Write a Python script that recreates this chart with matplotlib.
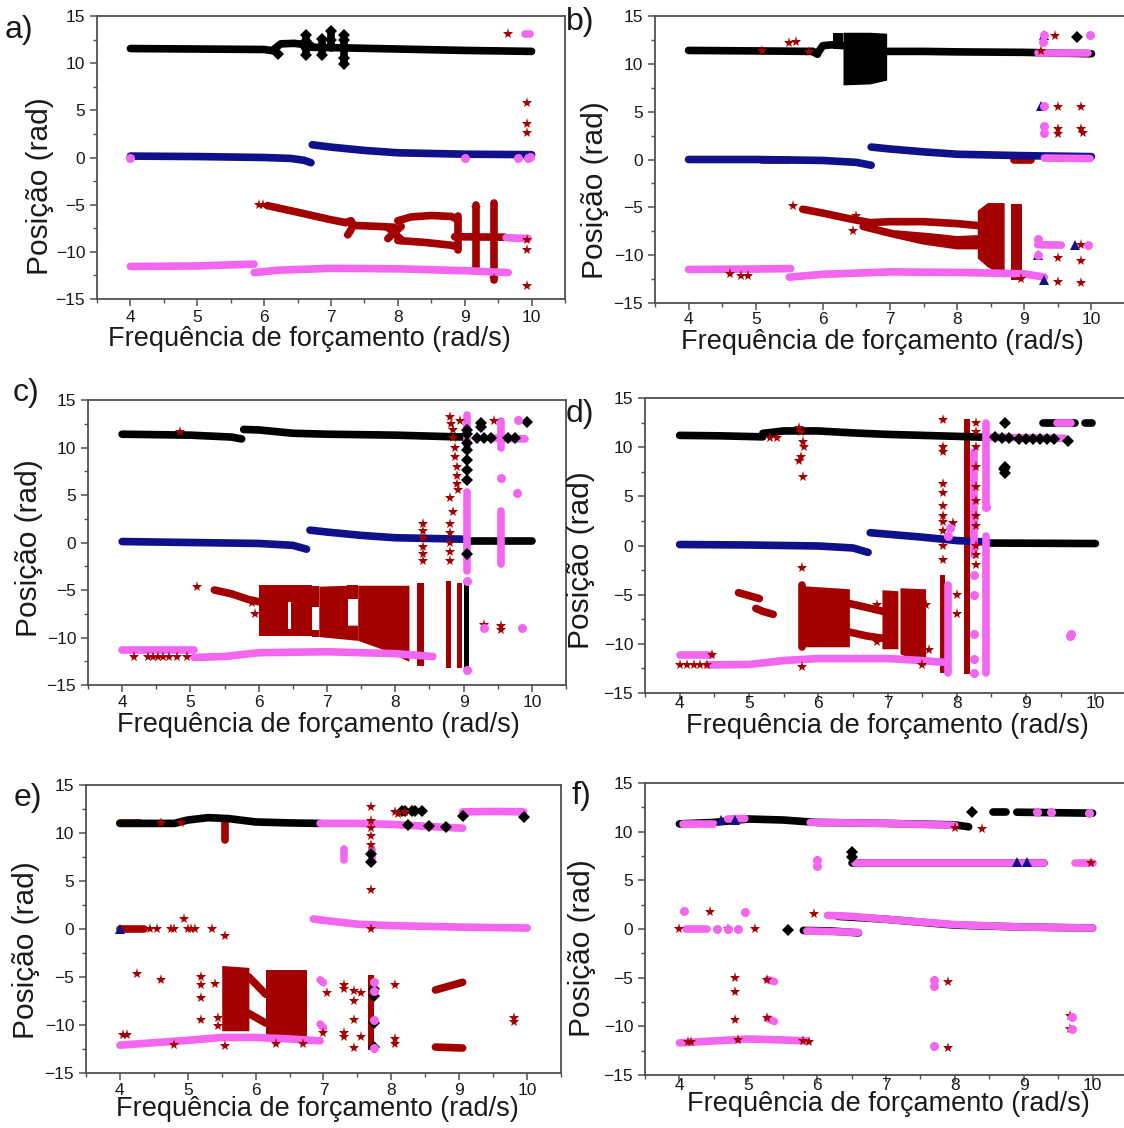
import matplotlib
matplotlib.use("Agg")
import matplotlib.pyplot as plt
from matplotlib.ticker import MultipleLocator

W, H = 1124, 1128
BLACK, BLUE, RED, PINK = "#000000", "#10108a", "#a30000", "#f266f0"
FONT = "Liberation Sans"

# ---------------- panel a) ----------------
A_BLACK_LINES = [
    ([4.0, 5.0, 6.0, 6.15], [11.55, 11.5, 11.45, 11.3]),
    ([6.15, 6.25, 6.45, 6.7], [11.5, 12.05, 12.1, 11.9]),
    ([6.6, 7.0, 8.0, 9.0, 10.0], [11.7, 11.65, 11.5, 11.35, 11.25]),
    ([6.63, 6.63], [10.9, 13.0]), ([6.87, 6.87], [10.9, 12.6]),
    ([7.0, 7.0], [11.6, 13.4]), ([7.2, 7.2], [9.9, 13.0]),
]
A_BLACK_PTS = [(6.2, 11.0), (6.63, 13.0), (6.63, 12.4), (6.63, 10.9), (6.87, 12.6), (6.87, 10.9),
               (7.0, 13.4), (7.0, 12.5), (7.2, 13.0), (7.2, 12.5), (7.2, 10.5), (7.2, 9.9)]
A_BLUE_LINES = [
    ([4.0, 5.0, 6.0, 6.4, 6.6, 6.7], [0.15, 0.1, 0.0, -0.1, -0.3, -0.55]),
    ([6.72, 7.0, 7.5, 8.0, 9.0, 10.0], [1.35, 1.1, 0.75, 0.5, 0.35, 0.3]),
]
A_BLUE_PTS = []
A_RED_LINES = [
    ([6.05, 6.5, 7.0, 7.22], [-5.1, -5.8, -6.6, -6.9]),
    ([7.22, 7.3, 7.33, 7.28, 7.25], [-6.9, -6.7, -7.2, -7.9, -8.2]),
    ([7.33, 7.7, 7.95], [-7.2, -7.3, -7.4]),
    ([7.85, 8.05], [-8.6, -7.3]), ([7.85, 8.05], [-7.4, -8.7]),
    ([8.0, 8.2, 8.5, 8.8, 8.9], [-6.7, -6.3, -6.15, -6.25, -6.6]),
    ([8.0, 8.4, 8.8, 8.9], [-8.8, -9.0, -9.3, -9.5]),
    ([8.85, 9.6], [-8.4, -8.45]),
    ([8.9, 8.9], [-6.2, -9.8]), ([9.17, 9.17], [-5.0, -11.6]), ([9.44, 9.44], [-4.8, -13.0]),
]
A_RED_FILL = []
A_RED_PTS = [(5.93, -5.0), (5.98, -5.05), (9.65, 13.1), (9.93, 5.8), (9.93, 3.6), (9.93, 2.6),
             (9.93, -8.7), (9.93, -9.8), (9.93, -13.6), (9.44, -12.9), (9.17, -5.4)]
A_PINK_LINES = [
    ([4.0, 5.0, 5.85], [-11.55, -11.5, -11.3]),
    ([5.85, 6.2, 7.0, 8.0, 9.0, 9.65], [-12.2, -11.95, -11.75, -11.8, -12.0, -12.2]),
    ([9.62, 9.95], [-8.5, -8.6]),
    ([9.9, 9.97], [13.1, 13.1]),
]
A_PINK_PTS = [(4.0, 0.0), (9.0, 0.0), (9.8, 0.0), (9.95, 0.0), (9.97, 0.05)]

# ---------------- panel b) ----------------
B_BLACK_LINES = [
    ([4.0, 5.0, 5.85], [11.4, 11.35, 11.3]),
    ([5.85, 5.92], [11.3, 11.0]),
    ([5.92, 6.0, 6.15, 6.3], [11.1, 11.9, 12.0, 11.9]),
    ([6.95, 7.5, 8.0, 9.0, 10.0], [11.3, 11.3, 11.25, 11.2, 11.05]),
]
B_BLACK_FILL = [
    ([6.15, 6.3], [11.6, 11.6], [13.2, 13.2]),
    ([6.3, 6.7, 6.95], [7.8, 7.9, 8.3], [13.3, 13.3, 13.2]),
]
B_BLACK_PTS = [(9.78, 12.85)]
B_BLUE_LINES = [
    ([4.0, 5.0, 6.0, 6.5, 6.72], [0.0, 0.0, -0.1, -0.3, -0.6]),
    ([6.72, 7.0, 7.5, 8.0, 9.0, 10.0], [1.3, 1.1, 0.8, 0.55, 0.4, 0.3]),
]
B_BLUE_PTS = [(9.3, 13.0), (9.2, -10.0), (9.3, -12.6), (9.25, 5.6), (9.75, -8.9)]
B_RED_LINES = [
    ([5.1, 5.5], [0.0, 0.0]),
    ([5.7, 6.0, 6.4, 6.7], [-5.2, -5.6, -6.2, -6.6]),
    ([6.7, 7.0, 7.5, 8.0, 8.3], [-6.6, -6.5, -6.5, -6.7, -6.9]),
    ([6.6, 7.0, 7.5, 8.0, 8.3], [-7.0, -7.7, -8.5, -9.0, -9.0]),
    ([7.1, 7.6, 8.0, 8.3], [-7.8, -8.1, -8.4, -8.3]),
    ([8.85, 9.1], [0.0, 0.0]),
]
B_RED_FILL = [
    ([8.3, 8.45, 8.7], [-10.3, -11.2, -12.3], [-5.3, -4.5, -4.5]),
    ([8.8, 8.97], [-12.6, -12.6], [-4.6, -4.6]),
]
B_RED_PTS = [(5.55, -4.9), (5.5, 12.2), (5.6, 12.3), (5.1, 11.3), (5.8, 11.2), (4.62, -12.0),
             (4.78, -12.2), (4.88, -12.2), (9.45, 12.9), (9.5, 5.5), (9.85, 5.5), (9.5, 3.2),
             (9.5, 2.7), (9.85, 3.2), (9.88, 2.8), (9.5, -10.3), (9.85, -10.6), (9.5, -12.8),
             (9.85, -12.9), (9.85, -8.9), (6.45, -7.5), (6.5, -5.9), (8.95, -12.5), (9.25, 11.3)]
B_PINK_LINES = [
    ([4.0, 5.0, 5.52], [-11.5, -11.45, -11.4]),
    ([5.5, 6.0, 7.0, 8.0, 9.0, 9.3], [-12.3, -12.0, -11.75, -11.8, -11.95, -12.3]),
    ([9.2, 9.95], [11.1, 11.1]),
    ([9.3, 9.98], [0.15, 0.1]),
    ([9.2, 9.55], [-8.9, -8.95]),
]
B_PINK_PTS = [(9.28, 12.3), (9.3, 13.0), (9.98, 13.0), (9.3, 5.6), (9.3, 3.5), (9.3, 2.8),
              (9.2, -10.0), (9.95, -8.9), (9.2, -8.3)]

# ---------------- panel c) ----------------
C_BLACK_LINES = [
    ([4.0, 5.0, 5.6, 5.75], [11.4, 11.3, 11.1, 10.9]),
    ([5.78, 6.0, 6.5, 7.0, 8.0, 9.0], [11.9, 11.85, 11.5, 11.4, 11.3, 11.1]),
    ([9.05, 10.0], [0.15, 0.15]),
]
C_BLACK_FILL = [([9.0, 9.08], [-13.3, -13.3], [-4.0, -4.0])]
C_BLACK_PTS = [(9.05, 11.8), (9.05, 11.4), (9.05, 10.5), (9.05, 9.7), (9.05, 8.7), (9.05, 7.6),
               (9.05, 6.6), (9.05, -1.2), (9.25, 12.6), (9.25, 12.2), (9.93, 12.65), (9.2, 11.0),
               (9.3, 11.0), (9.4, 11.0), (9.65, 11.0), (9.75, 11.0)]
C_BLUE_LINES = [
    ([4.0, 5.0, 6.0, 6.5, 6.7], [0.1, 0.0, -0.1, -0.3, -0.7]),
    ([6.75, 7.0, 7.5, 8.0, 9.0], [1.3, 1.1, 0.75, 0.5, 0.35]),
]
C_BLUE_PTS = []
C_RED_LINES = [([5.35, 5.6, 5.85, 6.05], [-5.0, -5.4, -6.0, -6.3])]
C_RED_FILL = [
    ([6.0, 6.43], [-9.8, -9.8], [-4.5, -4.5]),
    ([6.43, 6.48], [-9.8, -9.8], [-9.1, -9.1]), ([6.43, 6.48], [-6.3, -6.3], [-4.5, -4.5]),
    ([6.48, 6.78], [-9.8, -9.8], [-4.5, -4.5]),
    ([6.78, 6.88], [-9.9, -9.9], [-9.2, -9.2]), ([6.78, 6.88], [-6.8, -6.8], [-4.6, -4.6]),
    ([6.88, 7.3], [-9.9, -10.2], [-4.6, -4.5]),
    ([7.3, 7.45], [-10.2, -10.3], [-8.7, -8.7]), ([7.3, 7.45], [-5.9, -5.9], [-4.5, -4.5]),
    ([7.45, 7.8, 8.2], [-10.3, -11.2, -12.5], [-4.5, -4.5, -4.5]),
    ([8.32, 8.42], [-13.0, -13.0], [-4.3, -4.3]),
    ([8.75, 8.82], [-13.2, -13.2], [-4.0, -4.0]),
    ([8.9, 8.98], [-13.2, -13.2], [-4.3, -4.3]),
]
C_RED_PTS = [(5.1, -4.65), (4.17, -12.1), (4.38, -12.1), (4.45, -12.1), (4.52, -12.1), (4.6, -12.1),
             (4.68, -12.1), (4.8, -12.1), (4.95, -12.1), (4.85, 11.6), (5.9, -6.4), (5.95, -7.5),
             (8.4, 2.0), (8.4, 1.2), (8.4, 0.5), (8.4, -0.5), (8.4, -1.2), (8.4, -1.9),
             (8.8, 13.2), (8.82, 12.5), (8.85, 11.8), (8.85, 11.0), (8.87, 10.0), (8.88, 9.0),
             (8.9, 8.0), (8.9, 7.0), (8.9, 6.2), (8.92, 5.5), (8.8, 4.7), (8.85, 3.2), (8.8, 2.0),
             (8.8, 1.0), (8.8, 0.0), (8.8, -1.0), (8.8, -1.9), (8.95, 12.8), (9.45, 12.8),
             (9.3, -8.7), (9.55, -8.8), (9.55, -9.2)]
C_PINK_LINES = [
    ([4.0, 5.05], [-11.3, -11.3]),
    ([5.05, 5.5, 6.0, 7.0, 8.0, 8.55], [-12.1, -12.0, -11.6, -11.5, -11.7, -12.0]),
    ([9.4, 9.9], [11.0, 10.9]),
    ([9.05, 9.05], [13.4, 9.8]), ([9.05, 9.05], [5.3, -3.0]),
    ([9.55, 9.55], [12.8, 10.0]), ([9.55, 9.55], [3.3, -2.3]),
]
C_PINK_PTS = [(9.05, -13.4), (9.55, 6.8), (9.8, 12.9), (9.78, 5.2), (9.85, -9.0), (9.3, -9.0),
              (9.05, -4.0)]

# ---------------- panel d) ----------------
D_BLACK_LINES = [
    ([4.0, 4.6, 5.2], [11.2, 11.15, 11.05]),
    ([5.2, 5.5, 6.0, 6.5, 7.0, 8.0, 8.45], [11.4, 11.65, 11.65, 11.45, 11.3, 11.1, 11.0]),
    ([8.45, 10.0], [0.25, 0.2]),
    ([9.25, 9.7], [12.5, 12.5]), ([9.85, 9.95], [12.5, 12.5]),
]
D_BLACK_FILL = []
D_BLACK_PTS = [(8.7, 12.5), (8.55, 11.0), (8.65, 10.9), (8.75, 10.9), (8.9, 10.85), (9.0, 10.85),
               (9.1, 10.8), (9.2, 10.8), (9.3, 10.8), (9.4, 10.8), (9.6, 10.6), (8.7, 8.0),
               (8.7, 7.4), (8.68, 7.8)]
D_BLUE_LINES = [
    ([4.0, 5.0, 6.0, 6.5, 6.72], [0.1, 0.05, -0.05, -0.25, -0.7]),
    ([6.75, 7.0, 7.5, 8.0, 8.45], [1.3, 1.15, 0.85, 0.5, 0.35]),
]
D_BLUE_PTS = []
D_RED_LINES = [
    ([4.85, 5.0, 5.15], [-4.8, -5.1, -5.4]),
    ([5.1, 5.2, 5.35], [-6.4, -6.7, -7.0]),
    ([6.45, 6.7, 7.0], [-5.9, -6.3, -6.8]),
    ([6.45, 6.7, 7.0], [-8.8, -9.2, -9.5]),
    ([5.77, 5.77], [-4.0, -10.3]),
]
D_RED_FILL = [
    ([5.8, 6.45], [-10.3, -10.3], [-4.1, -4.4]),
    ([6.92, 7.15], [-10.5, -10.5], [-4.5, -4.6]),
    ([7.18, 7.55], [-11.0, -12.2], [-4.3, -4.4]),
    ([7.76, 7.83], [-13.0, -13.0], [-3.0, -3.0]),
    ([8.1, 8.19], [-13.1, -13.1], [12.9, 12.9]),
]
D_RED_PTS = [(5.72, 12.0), (5.75, 11.5), (5.78, 10.5), (5.8, 10.0), (5.75, 9.0), (5.72, 8.6),
             (5.78, 7.0), (5.77, -2.3), (5.77, -12.4), (4.0, -12.2), (4.1, -12.2), (4.2, -12.2),
             (4.3, -12.2), (4.4, -12.2), (4.47, -11.1), (5.3, 10.9), (5.4, 10.9),
             (7.8, 12.8), (7.8, 10.0), (7.8, 9.5), (7.8, 6.3), (7.8, 5.3), (7.8, 4.0), (7.8, 3.0),
             (7.8, 2.4), (7.8, 1.5), (7.8, 0.0), (7.8, -1.5),
             (8.28, 12.5), (8.28, 11.5), (8.28, 10.0), (8.28, 8.0), (8.28, 6.0), (8.28, 4.5),
             (8.28, 3.0), (8.28, 2.0), (8.28, 0.0), (8.28, -1.0), (8.28, -2.0),
             (6.85, -6.0), (6.85, -9.8), (7.55, -6.0), (7.6, -10.6), (7.5, -12.2), (7.95, 2.3),
             (8.0, -5.0), (8.0, -7.0)]
D_PINK_LINES = [
    ([4.0, 4.45], [-11.1, -11.1]),
    ([4.4, 5.0, 5.5, 6.0, 7.0, 7.5, 7.85], [-12.15, -12.1, -11.7, -11.5, -11.5, -11.7, -11.9]),
    ([8.45, 9.55], [11.0, 10.9]),
    ([9.45, 9.65], [12.5, 12.5]),
    ([7.87, 7.87], [-4.0, -13.0]),
    ([8.25, 8.25], [9.5, -1.0]),
    ([8.42, 8.42], [12.5, 4.2]), ([8.42, 8.42], [1.0, -13.0]),
]
D_PINK_PTS = [(7.9, 1.8), (7.88, 1.0), (8.25, -3.0), (8.25, -5.0), (8.25, -9.0), (8.25, -11.5),
              (8.25, -13.0), (8.42, 3.9), (9.65, -9.0), (9.64, -9.2)]

# ---------------- panel e) ----------------
E_BLACK_LINES = [
    ([4.0, 4.8, 5.0, 5.3, 5.6, 6.0, 6.5, 6.95], [11.0, 11.0, 11.35, 11.6, 11.5, 11.15, 11.05, 11.0]),
]
E_BLACK_FILL = []
E_BLACK_PTS = [(8.15, 12.3), (8.2, 12.3), (8.3, 12.3), (8.35, 12.3), (8.45, 12.3), (8.25, 10.8),
               (8.55, 10.7), (9.05, 11.8), (9.95, 11.7), (7.7, 7.0), (7.7, 7.8), (7.75, -6.2),
               (7.75, -7.0), (7.75, -9.8), (7.75, -12.3), (8.8, 10.6)]
E_BLUE_LINES = []
E_BLUE_PTS = [(4.0, 0.05)]
E_RED_LINES = [
    ([8.65, 9.05], [-6.35, -5.55]),
    ([8.65, 9.05], [-12.3, -12.4]),
    ([5.55, 5.55], [11.4, 9.3]),
    ([4.0, 4.3], [11.0, 11.0]),
    ([4.0, 4.35], [0.0, 0.0]),
    ([5.9, 6.15], [-5.0, -6.8]),
    ([5.9, 6.15], [-8.8, -9.8]),
]
E_RED_FILL = [
    ([5.5, 5.9], [-10.6, -10.6], [-3.8, -4.0]),
    ([6.15, 6.75], [-11.2, -11.2], [-4.3, -4.3]),
    ([7.66, 7.74], [-12.6, -12.6], [-4.8, -4.8]),
]
E_RED_PTS = [(4.95, 1.0), (5.55, -0.7), (4.05, -11.0), (4.1, -11.0), (4.25, -4.7), (4.6, -5.3),
             (5.2, -5.0), (5.2, -5.8), (5.2, -7.2), (5.2, -9.5), (5.4, -5.7), (5.45, -9.3),
             (5.45, -10.1), (7.05, -6.7), (7.3, -5.8), (7.3, -6.2), (7.3, -10.8), (7.3, -11.2),
             (7.45, -6.5), (7.45, -7.5), (7.45, -9.5), (7.45, -12.4), (7.55, -11.3), (7.55, -6.7),
             (7.0, -10.8), (8.05, -5.8), (8.05, -11.5), (8.05, -12.0), (9.8, -9.3), (9.8, -9.7),
             (4.45, 0.0), (4.55, 0.0), (4.75, 0.0), (4.8, 0.0), (5.0, 0.0), (5.05, 0.0),
             (5.1, 0.0), (5.35, 0.0), (7.7, 12.7), (7.7, 11.2), (7.7, 10.5), (7.7, 9.7),
             (7.7, 8.8), (7.7, 4.1), (7.7, 0.0), (8.05, 12.2), (8.1, 12.0), (8.2, 12.2),
             (5.55, -12.2), (6.7, -12.0), (4.8, -12.1), (6.3, -12.0), (4.6, 11.0), (4.9, 11.0)]
E_PINK_LINES = [
    ([4.0, 5.0, 5.5, 6.0, 6.5, 6.95], [-12.1, -11.6, -11.3, -11.3, -11.45, -11.65]),
    ([6.85, 7.0, 7.5, 8.0, 9.0, 10.0], [1.05, 0.9, 0.5, 0.35, 0.2, 0.1]),
    ([6.95, 7.5, 8.0, 8.5, 9.05], [11.0, 11.0, 10.9, 10.7, 10.5]),
    ([9.05, 9.5, 9.95], [12.2, 12.25, 12.2]),
    ([7.3, 7.3], [8.3, 7.2]), ([7.72, 7.72], [8.3, 7.0]),
    ([6.95, 7.0], [-5.3, -5.6]), ([6.95, 7.0], [-9.9, -10.3]),
]
E_PINK_PTS = [(7.75, -5.5), (7.75, -6.5), (7.75, -9.5), (7.75, -12.4)]

# ---------------- panel f) ----------------
F_BLACK_LINES = [
    ([4.0, 4.5, 5.0, 5.5, 6.0, 7.0, 8.0, 8.2], [10.8, 10.95, 11.3, 11.2, 10.95, 10.85, 10.7, 10.5]),
    ([8.55, 8.75], [12.0, 12.0]),
    ([8.9, 10.0], [12.0, 11.9]),
    ([6.5, 9.3], [6.8, 6.8]),
    ([5.8, 6.2, 6.6], [-0.15, -0.2, -0.4]),
    ([6.3, 7.0, 8.0, 9.0, 10.0], [1.3, 1.0, 0.4, 0.2, 0.1]),
]
F_BLACK_FILL = []
F_BLACK_PTS = [(8.25, 12.0), (6.5, 7.9), (6.5, 7.4), (5.57, -0.1)]
F_BLUE_LINES = []
F_BLUE_PTS = [(8.9, 6.9), (9.05, 6.9), (4.6, 11.2), (4.8, 11.2)]
F_RED_LINES = []
F_RED_FILL = []
F_RED_PTS = [(4.0, 0.0), (4.45, 1.7), (4.7, 0.0), (5.1, 0.0), (5.95, 1.5), (4.8, -5.0),
             (4.8, -6.5), (4.8, -9.3), (4.85, -11.4), (5.27, -5.2), (5.27, -9.1), (7.9, -5.4),
             (7.9, -12.2), (9.67, -8.9), (9.67, -10.3), (9.98, 6.8), (8.0, 10.4), (8.4, 10.3),
             (4.12, -11.6), (4.17, -11.6), (5.8, -11.5), (5.88, -11.6)]
F_PINK_LINES = [
    ([4.05, 4.5], [10.8, 10.8]),
    ([4.7, 4.95], [11.3, 11.35]),
    ([5.9, 7.0, 8.0], [10.95, 10.85, 10.65]),
    ([6.55, 7.0, 8.0, 9.3], [6.8, 6.8, 6.8, 6.8]),
    ([9.75, 10.0], [6.8, 6.8]),
    ([6.15, 6.5, 7.0, 8.0, 9.0, 10.0], [1.4, 1.3, 1.0, 0.45, 0.2, 0.1]),
    ([5.85, 6.6], [-0.2, -0.35]),
    ([4.0, 4.5, 5.0, 5.5, 5.85], [-11.7, -11.5, -11.3, -11.4, -11.5]),
    ([5.28, 5.38], [-5.2, -5.4]), ([5.28, 5.38], [-9.2, -9.5]),
    ([4.1, 4.4], [0.0, 0.0]),
]
F_PINK_PTS = [(4.07, 1.8), (4.95, 1.7), (4.55, 0.0), (4.85, 0.0), (6.0, 7.1), (6.0, 6.5),
              (7.7, -5.2), (7.7, -5.9), (7.7, -12.0), (9.7, -9.0), (9.7, -10.3), (9.2, 12.0),
              (9.4, 12.0), (9.95, 11.9), (4.7, 0.0)]

# layout in pixels: left, top, right, bottom of each frame
BOXES = {"a": (97, 16, 565, 299), "b": (655, 16, 1125, 303), "c": (88, 400, 566, 685),
         "d": (645, 398, 1130, 693), "e": (86, 785, 561, 1073), "f": (645, 783, 1127, 1075)}
TAGS = {"a": (5, 30), "b": (566, 22), "c": (13, 393), "d": (566, 414), "e": (14, 798), "f": (571, 796)}
# label centres in axes fractions
YLAB = {"a": (-0.122, 0.40), "b": (-0.128, 0.394), "c": (-0.123, 0.48), "d": (-0.132, 0.451),
        "e": (-0.126, 0.427), "f": (-0.131, 0.435)}
XLAB = {"a": (0.453, -0.141), "b": (0.483, -0.136), "c": (0.483, -0.140), "d": (0.499, -0.112),
        "e": (0.488, -0.125), "f": (0.504, -0.099)}
XPAD = {"a": 3.0, "b": 1.5, "c": 2.0, "d": -3.0, "e": 2.0, "f": -3.0}

DATA = {
    "a": (A_BLACK_LINES, [], A_BLACK_PTS, A_BLUE_LINES, A_BLUE_PTS, A_RED_LINES, A_RED_FILL, A_RED_PTS, A_PINK_LINES, A_PINK_PTS),
    "b": (B_BLACK_LINES, B_BLACK_FILL, B_BLACK_PTS, B_BLUE_LINES, B_BLUE_PTS, B_RED_LINES, B_RED_FILL, B_RED_PTS, B_PINK_LINES, B_PINK_PTS),
    "c": (C_BLACK_LINES, C_BLACK_FILL, C_BLACK_PTS, C_BLUE_LINES, C_BLUE_PTS, C_RED_LINES, C_RED_FILL, C_RED_PTS, C_PINK_LINES, C_PINK_PTS),
    "d": (D_BLACK_LINES, D_BLACK_FILL, D_BLACK_PTS, D_BLUE_LINES, D_BLUE_PTS, D_RED_LINES, D_RED_FILL, D_RED_PTS, D_PINK_LINES, D_PINK_PTS),
    "e": (E_BLACK_LINES, E_BLACK_FILL, E_BLACK_PTS, E_BLUE_LINES, E_BLUE_PTS, E_RED_LINES, E_RED_FILL, E_RED_PTS, E_PINK_LINES, E_PINK_PTS),
    "f": (F_BLACK_LINES, F_BLACK_FILL, F_BLACK_PTS, F_BLUE_LINES, F_BLUE_PTS, F_RED_LINES, F_RED_FILL, F_RED_PTS, F_PINK_LINES, F_PINK_PTS),
}


def bands(ax, lines, color, lw=5.5):
    for xs, ys in lines:
        ax.plot(xs, ys, color=color, lw=lw, solid_capstyle="round")


def blocks(ax, fills, color):
    for xs, lo, hi in fills:
        ax.fill_between(xs, lo, hi, color=color, lw=0)


def points(ax, pts, color, marker, ms):
    if pts:
        xs, ys = zip(*pts)
        ax.plot(xs, ys, ls="none", marker=marker, color=color, ms=ms, mew=0)


plt.rcParams["font.family"] = FONT
fig = plt.figure(figsize=(W / 100, H / 100), dpi=100)

for key in "abcdef":
    l, t, r, b = BOXES[key]
    ax = fig.add_axes([l / W, 1 - b / H, (r - l) / W, (b - t) / H])
    (blk, blk_fill, blk_pts, blu, blu_pts, red, red_fill, red_pts, pnk, pnk_pts) = DATA[key]

    blocks(ax, red_fill, RED)
    bands(ax, red, RED)
    blocks(ax, blk_fill, BLACK)
    bands(ax, blk, BLACK)
    bands(ax, blu, BLUE)
    bands(ax, pnk, PINK)
    points(ax, blk_pts, BLACK, "D", 6)
    points(ax, blu_pts, BLUE, "^", 6.5)
    points(ax, red_pts, RED, "*", 8)
    points(ax, pnk_pts, PINK, "o", 6.5)

    ax.set_xlim(3.5, 10.5)
    ax.set_ylim(-15, 15)
    ax.xaxis.set_minor_locator(MultipleLocator(0.5))
    ax.yaxis.set_major_locator(MultipleLocator(5))
    ax.yaxis.set_minor_locator(MultipleLocator(2.5))
    ax.set_xticks(range(4, 11))
    for sp in ax.spines.values():
        sp.set_color("#505050")
        sp.set_linewidth(1.3)
    ax.tick_params(which="major", direction="out", length=5, width=1.1, color="#505050",
                   labelsize=12.5, labelcolor="#1a1a1a")
    ax.tick_params(which="minor", direction="out", length=3, width=1.0, color="#505050")
    ax.tick_params(axis="x", which="major", pad=XPAD[key])

    ax.set_ylabel("Posição (rad)", fontsize=21.5, color="#1a1a1a", va="center", ha="center")
    ax.yaxis.set_label_coords(*YLAB[key])
    ax.set_xlabel("Frequência de forçamento (rad/s)", fontsize=19.5, color="#1a1a1a",
                  va="center", ha="center")
    ax.xaxis.set_label_coords(*XLAB[key])

    tx, ty = TAGS[key]
    fig.text(tx / W, 1 - ty / H, key + ")", fontsize=23, color="#1a1a1a", ha="left", va="center")

fig.savefig("out.png", dpi=100)
